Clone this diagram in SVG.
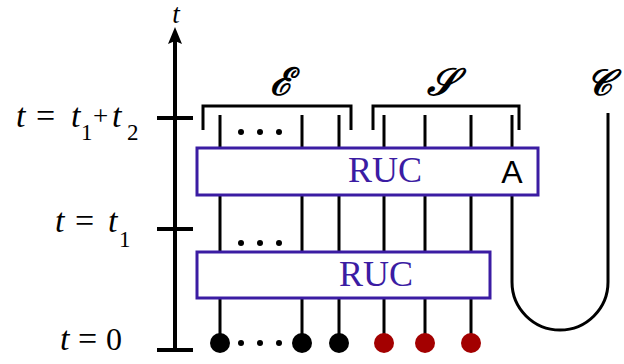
<svg xmlns="http://www.w3.org/2000/svg" width="624" height="364" viewBox="0 0 624 364">
<style>
.w{stroke:#000;stroke-width:3;fill:none}
.ax{stroke:#000;stroke-width:4;fill:none}
.box{fill:#fff;stroke:#3b1ca3;stroke-width:3}
.ruc{font-family:"Liberation Serif",serif;font-size:36px;fill:#3b1ca3;text-anchor:middle}
.m{font-family:"Liberation Serif",serif;font-size:34px;fill:#000}
.i{font-style:italic}
.sub{font-size:23px}
.cal{font-family:"DejaVu Serif",serif;font-style:italic;font-weight:bold;font-size:38px;fill:#000;text-anchor:middle}
.dot{fill:#000}
.rd{fill:#a30000}
</style>
<g id="axis">
<line class="ax" x1="175" y1="350" x2="175" y2="40"/>
<path d="M175,27 L182,44 L175,41 L168,44 Z" fill="#000"/>
<line class="ax" x1="157" y1="118" x2="193" y2="118"/>
<line class="ax" x1="157" y1="229" x2="193" y2="229"/>
<line class="ax" x1="157" y1="350" x2="193" y2="350"/>
<text class="m i" x="176" y="23" text-anchor="middle" style="font-size:27px">t</text>
<text class="m" x="16" y="127"><tspan class="i">t</tspan><tspan x="36">=</tspan><tspan class="i" x="71">t</tspan><tspan class="sub" x="81" y="140">1</tspan><tspan x="93" y="125" style="font-size:27px">+</tspan><tspan class="i" x="112" y="127">t</tspan><tspan class="sub" x="127" y="140">2</tspan></text>
<text class="m" x="55" y="232"><tspan class="i">t</tspan><tspan x="75">=</tspan><tspan class="i" x="108">t</tspan><tspan class="sub" x="119" y="247">1</tspan></text>
<text class="m" x="60" y="350"><tspan class="i">t</tspan><tspan x="78">=</tspan><tspan x="106" style="font-size:32px">0</tspan></text>
</g>
<g id="connectors">
<path class="w" d="M220,115V343M302,115V343M339,115V343M384,115V343M425,115V343M471,115V343"/>
<path class="w" d="M512,115V282A48,48 0 0 0 608,282V113"/>
<path class="w" d="M203,130V106H351V130"/>
<path class="w" d="M373,130V106H519V130"/>
</g>
<g id="ruc-top">
<rect class="box" x="197" y="148" width="341" height="47"/>
<text class="ruc" x="385" y="182">RUC</text>
<text x="512" y="183" font-family="Liberation Sans,sans-serif" font-size="32" text-anchor="middle" fill="#000">A</text>
</g>
<g id="ruc-bottom">
<rect class="box" x="197" y="252" width="293" height="46"/>
<text class="ruc" x="376" y="286">RUC</text>
</g>
<g id="dots">
<circle class="dot" cx="241" cy="132" r="3"/><circle class="dot" cx="260" cy="132" r="3"/><circle class="dot" cx="279" cy="132" r="3"/>
<circle class="dot" cx="241" cy="243" r="3"/><circle class="dot" cx="260" cy="243" r="3"/><circle class="dot" cx="279" cy="243" r="3"/>
<circle class="dot" cx="241" cy="343" r="3"/><circle class="dot" cx="260" cy="343" r="3"/><circle class="dot" cx="279" cy="343" r="3"/>
</g>
<g id="qubits">
<circle class="dot" cx="220" cy="343" r="10"/>
<circle class="dot" cx="302" cy="343" r="10"/>
<circle class="dot" cx="339" cy="343" r="10"/>
<circle class="rd" cx="384" cy="343" r="10"/>
<circle class="rd" cx="425" cy="343" r="10"/>
<circle class="rd" cx="471" cy="343" r="10"/>
</g>
<g id="labels">
<text class="cal" x="281" y="95">ℰ</text>
<text class="cal" x="441" y="95">𝒮</text>
<text class="cal" x="612" y="95" style="text-anchor:end;font-size:36px">𝒞</text>
</g>
</svg>
